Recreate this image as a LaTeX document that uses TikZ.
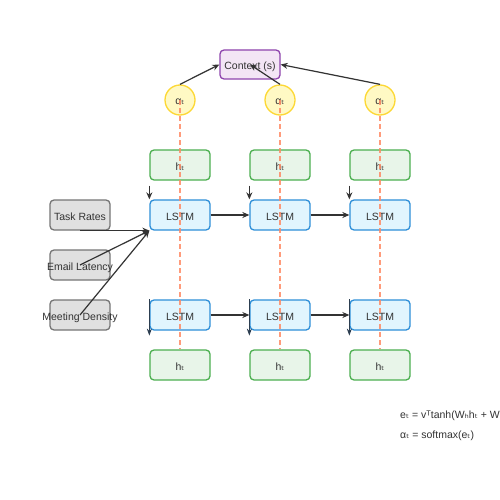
\documentclass[tikz,border=0pt]{standalone}
\usepackage{fontspec}
\setmainfont{Liberation Sans}
\newfontfamily\dv{DejaVu Sans}
\usetikzlibrary{arrows.meta,calc}
\newcommand{\sbt}{{\dv ₜ}}
\newcommand{\sbh}{{\dv ₕ}}
\newcommand{\sbx}{{\dv ₓ}}
\definecolor{txt}{HTML}{333333}
\definecolor{ctxfill}{HTML}{F3E5F5}
\definecolor{ctxdraw}{HTML}{8E44AD}
\definecolor{afill}{HTML}{FFF9C4}
\definecolor{adraw}{HTML}{FDD835}
\definecolor{hfill}{HTML}{E8F5E9}
\definecolor{hdraw}{HTML}{4CAF50}
\definecolor{lfill}{HTML}{E1F5FE}
\definecolor{ldraw}{HTML}{2E8FD8}
\definecolor{ifill}{HTML}{E0E0E0}
\definecolor{idraw}{HTML}{757575}
\definecolor{dashc}{HTML}{FF8A65}
\definecolor{arrc}{HTML}{333333}
\definecolor{darkc}{HTML}{2C3E50}
\begin{document}
\begin{tikzpicture}[x=1pt,y=-1pt,
  every node/.style={font=\fontsize{10.5}{12}\selectfont, text=txt},
  boxbase/.style={rectangle, rounded corners=4pt, minimum width=60pt, minimum height=30pt, line width=1.3pt, inner sep=0pt, text height=10pt, text depth=0pt},
  ctxbox/.style={boxbase, fill=ctxfill, draw=ctxdraw, minimum height=29pt},
  attn/.style={circle, fill=afill, draw=adraw, line width=1.3pt, minimum size=30pt, inner sep=0pt, text height=9pt, text depth=0pt},
  hbox/.style={boxbase, fill=hfill, draw=hdraw},
  lbox/.style={boxbase, fill=lfill, draw=ldraw},
  ibox/.style={boxbase, fill=ifill, draw=idraw},
  arr/.style={draw=arrc, line width=1.2pt, -{Stealth[length=7pt,width=6pt]}},
  darr/.style={draw=darkc, line width=1.2pt, -{Stealth[length=7pt,width=5pt]}},
  dline/.style={draw=dashc, line width=1.3pt, dash pattern=on 5pt off 3pt, opacity=0.85}
]
\useasboundingbox (0,0) rectangle (500,500);
\clip (0,0) rectangle (500,500);
\fill[white] (0,0) rectangle (500,500);

\node[ctxbox] (ctx) at (250,64.5) {Context (s)};

\node[attn] (a1) at (180,100) {α\sbt};
\node[attn] (a2) at (280,100) {α\sbt};
\node[attn] (a3) at (380,100) {α\sbt};

\node[hbox] (ht1) at (180,165) {h\sbt};
\node[hbox] (ht2) at (280,165) {h\sbt};
\node[hbox] (ht3) at (380,165) {h\sbt};

\node[lbox] (lt1) at (180,215) {LSTM};
\node[lbox] (lt2) at (280,215) {LSTM};
\node[lbox] (lt3) at (380,215) {LSTM};

\node[lbox] (lb1) at (180,315) {LSTM};
\node[lbox] (lb2) at (280,315) {LSTM};
\node[lbox] (lb3) at (380,315) {LSTM};

\node[hbox] (hb1) at (180,365) {h\sbt};
\node[hbox] (hb2) at (280,365) {h\sbt};
\node[hbox] (hb3) at (380,365) {h\sbt};

\node[ibox] (task) at (80,215) {\makebox[0pt]{Task Rates}};
\node[ibox] (email) at (80,265) {\makebox[0pt]{Email Latency}};
\node[ibox] (meet) at (80,315) {\makebox[0pt]{Meeting Density}};

% attention to context
\draw[arr] (a1.north) -- (ctx.west);
\draw[arr] (a2.north) -- (ctx.center);
\draw[arr] (a3.north) -- (ctx.east);

% h top to LSTM top
\draw[arr, shorten <=5pt] (ht1.south west) -- (lt1.north west);
\draw[arr, shorten <=5pt] (ht2.south west) -- (lt2.north west);
\draw[arr, shorten <=5pt] (ht3.south west) -- (lt3.north west);

% LSTM chain top
\draw[arr] (lt1.east) -- (lt2.west);
\draw[arr] (lt2.east) -- (lt3.west);

% LSTM chain bottom
\draw[arr] (lb1.east) -- (lb2.west);
\draw[arr] (lb2.east) -- (lb3.west);

% bottom LSTM downward arrows
\coordinate (d1) at ($(lb1.south west)+(0,5)$);
\coordinate (d2) at ($(lb2.south west)+(0,5)$);
\coordinate (d3) at ($(lb3.south west)+(0,5)$);
\draw[darr] (lb1.north west) -- (d1);
\draw[darr] (lb2.north west) -- (d2);
\draw[darr] (lb3.north west) -- (d3);

% inputs
\draw[arr] (task.south) -- (lt1.south west);
\draw[arr] (email.center) -- (lt1.south west);
\draw[arr] (meet.center) -- (lt1.south west);

% dashed attention lines
\draw[dline] (a1.center) -- (hb1.north);
\draw[dline] (a2.center) -- (hb2.north);
\draw[dline] (a3.center) -- (hb3.north);

% formulas
\node[anchor=west, inner sep=0pt] (f1) at (400,416) {e\sbt{} = vᵀtanh(W\sbh{}h\sbt{} + W\sbx{}x\sbt)};
\node[anchor=west, inner sep=0pt] (f2) at (400,436) {α\sbt{} = softmax(e\sbt)};
\end{tikzpicture}
\end{document}
